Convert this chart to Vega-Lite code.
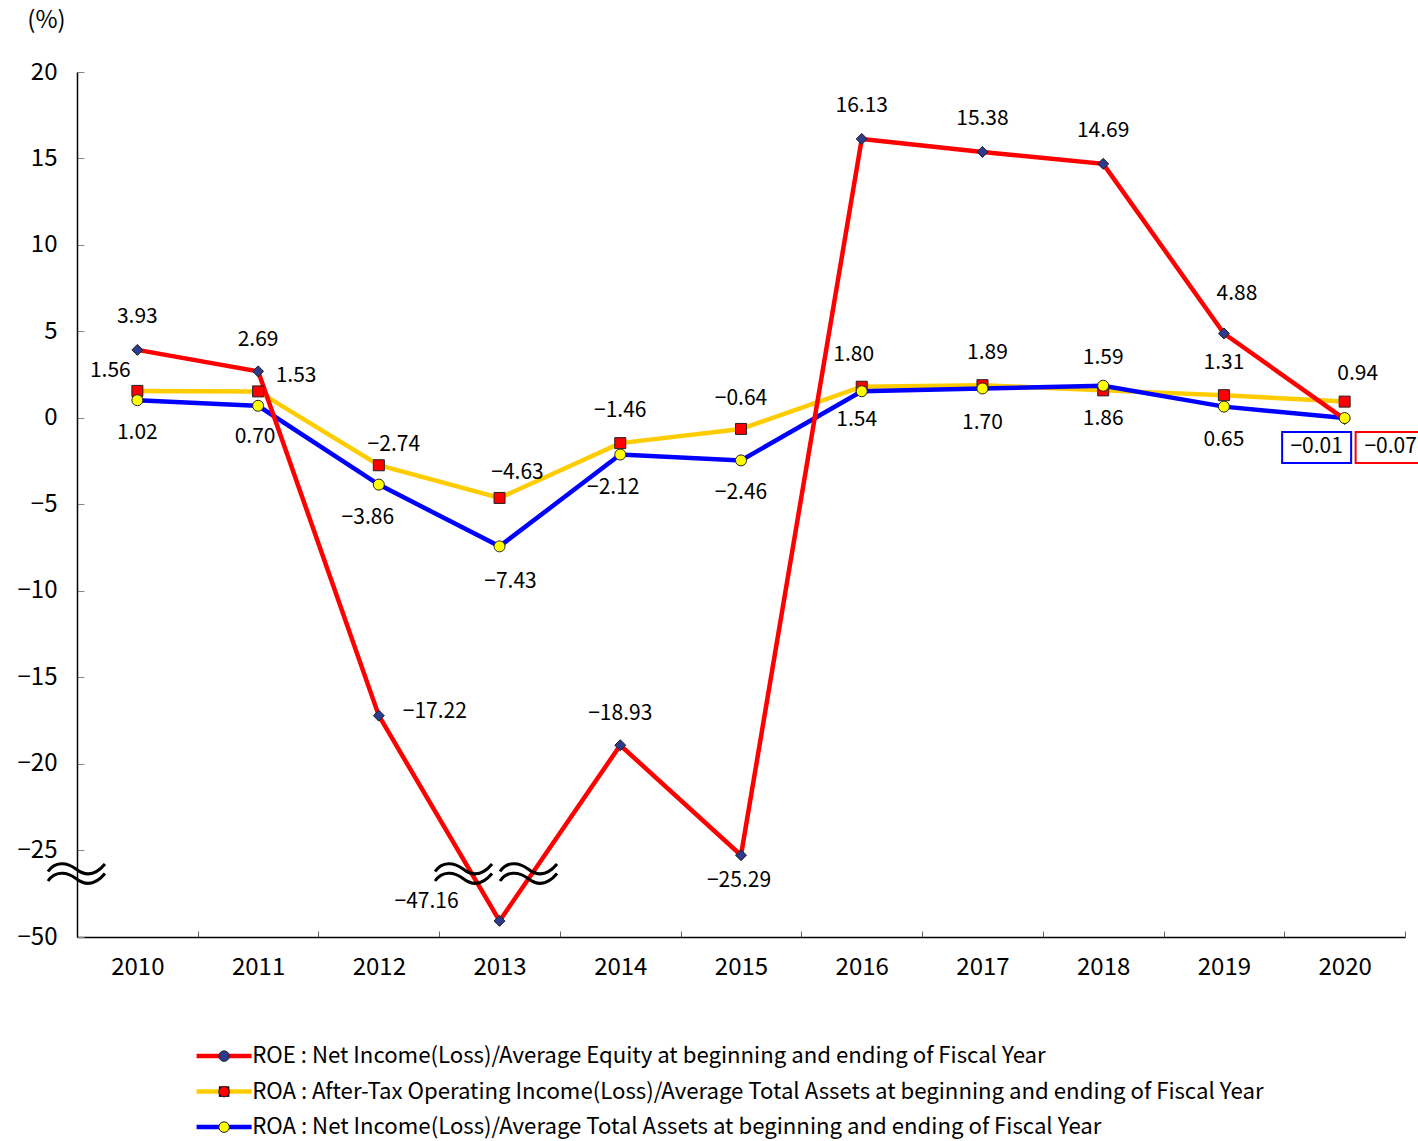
{
  "$schema": "https://vega.github.io/schema/vega-lite/v6.json",
  "width": 1328,
  "height": 865,
  "autosize": {"type": "none"},
  "padding": {"left": 77, "top": 72, "right": 13, "bottom": 204},
  "background": "white",
  "config": {
    "view": {"stroke": null},
    "font": "Noto Sans CJK JP"
  },
  "data": {
    "values": [
      {"year": "2010", "series": "ROE : Net Income(Loss)/Average Equity at beginning and ending of Fiscal Year", "value": 3.93},
      {"year": "2011", "series": "ROE : Net Income(Loss)/Average Equity at beginning and ending of Fiscal Year", "value": 2.69},
      {"year": "2012", "series": "ROE : Net Income(Loss)/Average Equity at beginning and ending of Fiscal Year", "value": -17.22},
      {"year": "2013", "series": "ROE : Net Income(Loss)/Average Equity at beginning and ending of Fiscal Year", "value": -47.16},
      {"year": "2014", "series": "ROE : Net Income(Loss)/Average Equity at beginning and ending of Fiscal Year", "value": -18.93},
      {"year": "2015", "series": "ROE : Net Income(Loss)/Average Equity at beginning and ending of Fiscal Year", "value": -25.29},
      {"year": "2016", "series": "ROE : Net Income(Loss)/Average Equity at beginning and ending of Fiscal Year", "value": 16.13},
      {"year": "2017", "series": "ROE : Net Income(Loss)/Average Equity at beginning and ending of Fiscal Year", "value": 15.38},
      {"year": "2018", "series": "ROE : Net Income(Loss)/Average Equity at beginning and ending of Fiscal Year", "value": 14.69},
      {"year": "2019", "series": "ROE : Net Income(Loss)/Average Equity at beginning and ending of Fiscal Year", "value": 4.88},
      {"year": "2020", "series": "ROE : Net Income(Loss)/Average Equity at beginning and ending of Fiscal Year", "value": -0.07},
      {"year": "2010", "series": "ROA : After-Tax Operating Income(Loss)/Average Total Assets at beginning and ending of Fiscal Year", "value": 1.56},
      {"year": "2011", "series": "ROA : After-Tax Operating Income(Loss)/Average Total Assets at beginning and ending of Fiscal Year", "value": 1.53},
      {"year": "2012", "series": "ROA : After-Tax Operating Income(Loss)/Average Total Assets at beginning and ending of Fiscal Year", "value": -2.74},
      {"year": "2013", "series": "ROA : After-Tax Operating Income(Loss)/Average Total Assets at beginning and ending of Fiscal Year", "value": -4.63},
      {"year": "2014", "series": "ROA : After-Tax Operating Income(Loss)/Average Total Assets at beginning and ending of Fiscal Year", "value": -1.46},
      {"year": "2015", "series": "ROA : After-Tax Operating Income(Loss)/Average Total Assets at beginning and ending of Fiscal Year", "value": -0.64},
      {"year": "2016", "series": "ROA : After-Tax Operating Income(Loss)/Average Total Assets at beginning and ending of Fiscal Year", "value": 1.80},
      {"year": "2017", "series": "ROA : After-Tax Operating Income(Loss)/Average Total Assets at beginning and ending of Fiscal Year", "value": 1.89},
      {"year": "2018", "series": "ROA : After-Tax Operating Income(Loss)/Average Total Assets at beginning and ending of Fiscal Year", "value": 1.59},
      {"year": "2019", "series": "ROA : After-Tax Operating Income(Loss)/Average Total Assets at beginning and ending of Fiscal Year", "value": 1.31},
      {"year": "2020", "series": "ROA : After-Tax Operating Income(Loss)/Average Total Assets at beginning and ending of Fiscal Year", "value": 0.94},
      {"year": "2010", "series": "ROA : Net Income(Loss)/Average Total Assets at beginning and ending of Fiscal Year", "value": 1.02},
      {"year": "2011", "series": "ROA : Net Income(Loss)/Average Total Assets at beginning and ending of Fiscal Year", "value": 0.70},
      {"year": "2012", "series": "ROA : Net Income(Loss)/Average Total Assets at beginning and ending of Fiscal Year", "value": -3.86},
      {"year": "2013", "series": "ROA : Net Income(Loss)/Average Total Assets at beginning and ending of Fiscal Year", "value": -7.43},
      {"year": "2014", "series": "ROA : Net Income(Loss)/Average Total Assets at beginning and ending of Fiscal Year", "value": -2.12},
      {"year": "2015", "series": "ROA : Net Income(Loss)/Average Total Assets at beginning and ending of Fiscal Year", "value": -2.46},
      {"year": "2016", "series": "ROA : Net Income(Loss)/Average Total Assets at beginning and ending of Fiscal Year", "value": 1.54},
      {"year": "2017", "series": "ROA : Net Income(Loss)/Average Total Assets at beginning and ending of Fiscal Year", "value": 1.70},
      {"year": "2018", "series": "ROA : Net Income(Loss)/Average Total Assets at beginning and ending of Fiscal Year", "value": 1.86},
      {"year": "2019", "series": "ROA : Net Income(Loss)/Average Total Assets at beginning and ending of Fiscal Year", "value": 0.65},
      {"year": "2020", "series": "ROA : Net Income(Loss)/Average Total Assets at beginning and ending of Fiscal Year", "value": -0.01}
    ]
  },
  "encoding": {
    "x": {
      "field": "year",
      "type": "ordinal",
      "scale": {"type": "band", "paddingInner": 0, "paddingOuter": 0},
      "axis": {
        "title": null,
        "labelAngle": 0,
        "labelFont": "Noto Sans CJK JP",
        "labelFontSize": 24,
        "labelColor": "#000000",
        "labelPadding": 24,
        "tickBand": "extent",
        "tickSize": -6,
        "tickColor": "#666666",
        "domainColor": "#000000",
        "domainWidth": 1.5,
        "grid": false
      }
    },
    "y": {
      "field": "value",
      "type": "quantitative",
      "scale": {"domain": [-50, -47, -26, 20], "range": [865, 848, 795.5, 0], "zero": false, "nice": false, "clamp": false},
      "axis": {
        "values": [-50, -25, -20, -15, -10, -5, 0, 5, 10, 15, 20],
        "format": "d",
        "grid": false,
        "labelFont": "Noto Sans CJK JP",
        "labelFontSize": 24,
        "labelColor": "#000000",
        "labelPadding": 27,
        "tickSize": -7,
        "tickColor": "#888888",
        "domainColor": "#000000",
        "domainWidth": 1.5,
        "title": "(%)",
        "titleAngle": 0,
        "titleX": -31,
        "titleY": -52,
        "titleAlign": "center",
        "titleBaseline": "middle",
        "titleFont": "Noto Sans CJK JP",
        "titleFontSize": 24,
        "titleFontWeight": "normal",
        "titleColor": "#000000"
      }
    }
  },
  "layer": [
    {
      "transform": [{"filter": "indexof(datum.series, 'ROA') == 0"}],
      "mark": {"type": "line", "strokeWidth": 4.5},
      "encoding": {
        "color": {
          "field": "series",
          "type": "nominal",
          "scale": {
            "domain": [
              "ROE : Net Income(Loss)/Average Equity at beginning and ending of Fiscal Year",
              "ROA : After-Tax Operating Income(Loss)/Average Total Assets at beginning and ending of Fiscal Year",
              "ROA : Net Income(Loss)/Average Total Assets at beginning and ending of Fiscal Year"
            ],
            "range": ["#FF0000", "#FFCC00", "#0000FF"]
          },
          "legend": {
            "orient": "none",
            "legendX": 136,
            "legendY": 973,
            "direction": "vertical",
            "title": null,
            "padding": 0,
            "symbolType": "M -5.25 0 L 5.25 0",
            "symbolSize": 110,
            "symbolStrokeWidth": 4.5,
            "labelFont": "Noto Sans CJK JP",
            "labelFontSize": 22.2,
            "labelColor": "#000000",
            "labelOffset": 17,
            "labelLimit": 0,
            "rowPadding": 12.5
          }
        }
      }
    },
    {
      "transform": [{"filter": "indexof(datum.series, 'ROE') == 0"}],
      "mark": {"type": "line", "strokeWidth": 4.5},
      "encoding": {
        "color": {"field": "series", "type": "nominal"}
      }
    },
    {
      "mark": {"type": "point", "filled": true, "opacity": 1, "stroke": "#222222", "strokeWidth": 1, "size": 121},
      "encoding": {
        "shape": {
          "field": "series",
          "type": "nominal",
          "sort": [
            "ROE : Net Income(Loss)/Average Equity at beginning and ending of Fiscal Year",
            "ROA : After-Tax Operating Income(Loss)/Average Total Assets at beginning and ending of Fiscal Year",
            "ROA : Net Income(Loss)/Average Total Assets at beginning and ending of Fiscal Year"
          ],
          "scale": {"range": ["diamond", "square", "circle"]},
          "legend": {
            "orient": "none",
            "legendX": 136,
            "legendY": 973,
            "direction": "vertical",
            "title": null,
            "padding": 0,
            "symbolSize": 110,
            "symbolStrokeWidth": 1,
            "symbolStrokeColor": "#222222",
            "symbolOpacity": 1,
            "labelFont": "Noto Sans CJK JP",
            "labelFontSize": 22.2,
            "labelColor": "rgba(0,0,0,0)",
            "labelOffset": 17,
            "labelLimit": 0,
            "rowPadding": 12.5
          }
        },
        "fill": {
          "field": "series",
          "type": "nominal",
          "sort": [
            "ROE : Net Income(Loss)/Average Equity at beginning and ending of Fiscal Year",
            "ROA : After-Tax Operating Income(Loss)/Average Total Assets at beginning and ending of Fiscal Year",
            "ROA : Net Income(Loss)/Average Total Assets at beginning and ending of Fiscal Year"
          ],
          "scale": {"range": ["#2E3A8C", "#FF0000", "#FFFF00"]},
          "legend": {
            "orient": "none",
            "legendX": 136,
            "legendY": 973,
            "direction": "vertical",
            "title": null,
            "padding": 0,
            "symbolSize": 110,
            "symbolStrokeWidth": 1,
            "symbolStrokeColor": "#222222",
            "symbolOpacity": 1,
            "labelFont": "Noto Sans CJK JP",
            "labelFontSize": 22.2,
            "labelColor": "rgba(0,0,0,0)",
            "labelOffset": 17,
            "labelLimit": 0,
            "rowPadding": 12.5
          }
        }
      }
    },
    {
      "mark": {
        "type": "text",
        "font": "Noto Sans CJK JP",
        "fontSize": 21,
        "color": "#000000",
        "align": "center",
        "baseline": "middle",
        "dx": {"expr": "indexof(datum.series,'ROE')==0 ? (datum.year=='2012'?56:datum.year=='2013'?-73:datum.year=='2015'?-2:datum.year=='2019'?13:datum.year=='2020'?46:0) : indexof(datum.series,'ROA : After')==0 ? (datum.year=='2010'?-27:datum.year=='2011'?38:datum.year=='2012'?15:datum.year=='2013'?18:datum.year=='2016'?-8:datum.year=='2017'?5:datum.year=='2020'?13:0) : (datum.year=='2011'?-3:datum.year=='2012'?-11:datum.year=='2013'?11:datum.year=='2014'?-7:datum.year=='2016'?-5:datum.year=='2020'?-28:0)"},
        "dy": {"expr": "indexof(datum.series,'ROE')==0 ? (datum.year=='2012'?-4:datum.year=='2013'?-19:datum.year=='2015'?26:datum.year=='2019'?-39:datum.year=='2020'?28:datum.year=='2011'?-31:datum.year=='2014'?-31:-33) : indexof(datum.series,'ROA : After')==0 ? (datum.year=='2010'?-20:datum.year=='2011'?-15:datum.year=='2012'?-20:datum.year=='2013'?-25:datum.year=='2015'?-30:datum.year=='2020'?-28:-32) : (datum.year=='2011'?31:datum.year=='2013'?36:datum.year=='2016'?29:datum.year=='2017'?35:datum.year=='2020'?29:33)"}
      },
      "encoding": {
        "text": {"field": "value", "type": "quantitative", "format": ".2f"}
      }
    },
    {
      "transform": [{"filter": "datum.year == '2020' && indexof(datum.series, 'ROA : After') != 0"}],
      "mark": {"type": "point", "filled": false, "opacity": 1, "strokeWidth": 2, "size": 400},
      "encoding": {
        "shape": {
          "condition": {"test": "indexof(datum.series,'ROE')==0", "value": "M 1.1 1.3 L 8.0 1.3 L 8.0 4.4 L 1.1 4.4 Z"},
          "value": "M -6.25 1.4 L 0.65 1.4 L 0.65 4.5 L -6.25 4.5 Z"
        },
        "stroke": {
          "condition": {"test": "indexof(datum.series,'ROE')==0", "value": "#FF0000"},
          "value": "#0000FF"
        }
      }
    },
    {
      "data": {"values": [{"year": "2010", "value": -28.6}]},
      "mark": {
        "type": "point",
        "filled": false,
        "opacity": 1,
        "stroke": "#000000",
        "strokeWidth": 3,
        "size": 400,
        "shape": "M -8.94 -0.25 C -8.24 -1.3 -7.04 -1.2 -6.14 -0.5 C -5.24 0.2 -4.24 0.2 -3.24 -1.0 M -8.94 0.7 C -8.24 -0.35 -7.04 -0.25 -6.14 0.45 C -5.24 1.15 -4.24 1.15 -3.24 -0.05"
      },
      "encoding": {}
    },
    {
      "data": {"values": [{"year": "2013", "value": -28.6}]},
      "mark": {
        "type": "point",
        "filled": false,
        "opacity": 1,
        "stroke": "#000000",
        "strokeWidth": 3,
        "size": 400,
        "shape": "M -6.45 -0.25 C -5.75 -1.3 -4.55 -1.2 -3.65 -0.5 C -2.75 0.2 -1.75 0.2 -0.75 -1.0 M -6.45 0.7 C -5.75 -0.35 -4.55 -0.25 -3.65 0.45 C -2.75 1.15 -1.75 1.15 -0.75 -0.05 M 0.05 -0.25 C 0.75 -1.3 1.95 -1.2 2.85 -0.5 C 3.75 0.2 4.75 0.2 5.75 -1.0 M 0.05 0.7 C 0.75 -0.35 1.95 -0.25 2.85 0.45 C 3.75 1.15 4.75 1.15 5.75 -0.05"
      },
      "encoding": {}
    }
  ]
}
